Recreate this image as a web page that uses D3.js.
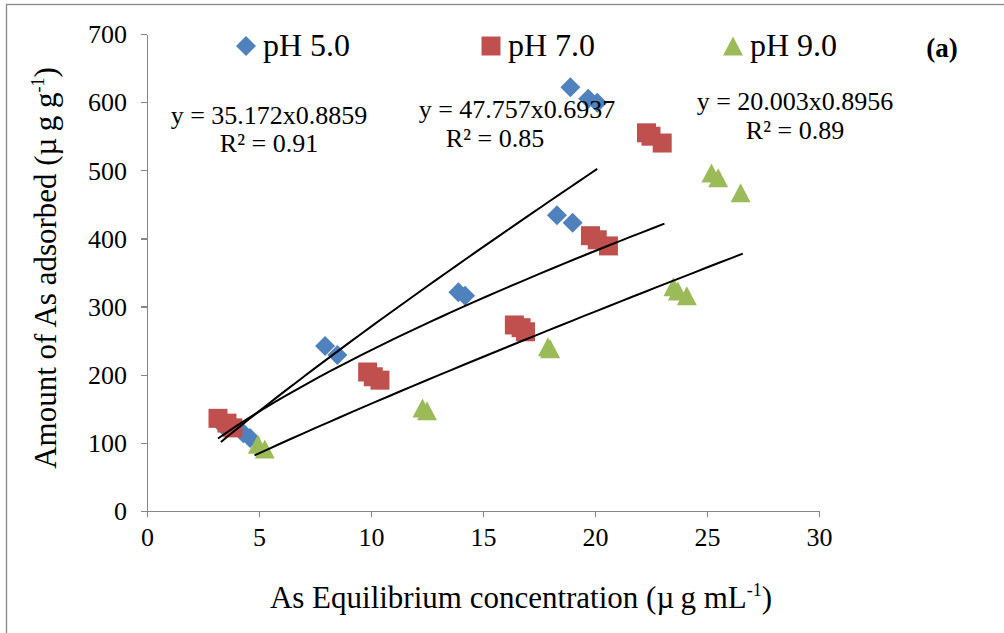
<!DOCTYPE html>
<html lang="en">
<head>
<meta charset="utf-8">
<script src="https://d3js.org/d3.v7.min.js"></script>
<style>
  body { margin: 0; background: #fff; }
  svg text { font-family: "Liberation Serif", "Times New Roman", serif; fill: #000; }
  .axis path, .axis line { stroke: #868686; stroke-width: 1.3px; fill: none; shape-rendering: crispEdges; }
</style>
</head>
<body>
<svg width="1004" height="633"></svg>
<script>
  // values
  var ph5X = [3.4, 4.3, 4.6, 7.95, 8.5, 13.9, 14.2, 18.3, 19.0, 18.9, 19.7, 20.1];
  var ph5Y = [125, 114, 107, 242, 229, 321, 316, 434, 423, 622, 605, 599];
  var ph7X = [3.17, 3.57, 3.83, 9.85, 10.1, 10.4, 16.4, 16.7, 16.9, 19.8, 20.1, 20.6, 22.3, 22.5, 23.0];
  var ph7Y = [136, 129, 122, 204, 197, 192, 273, 269, 263, 404, 398, 389, 555, 550, 540];
  var ph9X = [4.95, 5.26, 12.3, 12.5, 17.9, 18.0, 23.5, 23.7, 24.1, 25.2, 25.5, 26.5];
  var ph9Y = [98, 91, 151, 147, 241, 238, 329, 323, 316, 496, 489, 467];

  var seriesNames = ["pH 5.0", "pH 7.0", "pH 9.0"];
  var colors = ["#4F81BD", "#C0504D", "#9BBB59"];
  // power trendlines y = a * x^b, drawn over each series' x range
  var fitA = [35.172, 47.757, 20.003];
  var fitB = [0.8859, 0.6937, 0.8956];
  var fitR2 = ["0.91", "0.85", "0.89"];
  var fitRange = [[3.3, 20.1], [3.17, 23.1], [4.8, 26.6]];

  var xTicks = [0, 5, 10, 15, 20, 25, 30];
  var yTicks = [0, 100, 200, 300, 400, 500, 600, 700];

  var svg = d3.select("svg");

  // outer chart border (only top and left visible)
  svg.append("rect")
    .attr("x", 6.5).attr("y", 4.5)
    .attr("width", 1010).attr("height", 640)
    .attr("fill", "none").attr("stroke", "#888").attr("stroke-width", 1.3);

  var x = d3.scaleLinear().domain([0, 30]).range([147, 819]);
  var y = d3.scaleLinear().domain([0, 700]).range([511, 34]);

  var xAxis = svg.append("g")
    .attr("class", "axis")
    .attr("transform", "translate(0,511)")
    .call(d3.axisBottom(x).tickValues(xTicks).tickSize(6).tickSizeOuter(0).tickPadding(7));
  xAxis.selectAll("text").style("font-size", "26px").attr("dy", "0.85em");

  var yAxis = svg.append("g")
    .attr("class", "axis")
    .attr("transform", "translate(147,0)")
    .call(d3.axisLeft(y).tickValues(yTicks).tickSize(6).tickSizeOuter(0).tickPadding(14));
  yAxis.selectAll("text").style("font-size", "26px").attr("dy", "0.34em");

  // axis titles
  var xt = svg.append("text")
    .attr("x", 521).attr("y", 608)
    .attr("text-anchor", "middle")
    .style("font-size", "31px");
  xt.append("tspan").text("As Equilibrium concentration (µ\u2009g mL");
  xt.append("tspan").attr("dy", -12).style("font-size", "18px").text("-1");
  xt.append("tspan").attr("dy", 12).text(")");

  var yt = svg.append("text")
    .attr("transform", "translate(56,268) rotate(-90)")
    .attr("text-anchor", "middle")
    .style("font-size", "31px");
  yt.append("tspan").text("Amount of As adsorbed (µ\u2009g g");
  yt.append("tspan").attr("dy", -12).style("font-size", "18px").text("-1");
  yt.append("tspan").attr("dy", 12).text(")");

  // marker shapes
  function diamond(s) { return "M0," + (-s) + "L" + s + ",0L0," + s + "L" + (-s) + ",0Z"; }
  function square(s) { return "M" + (-s) + "," + (-s) + "H" + s + "V" + s + "H" + (-s) + "Z"; }
  function triangle(s) { return "M0," + (-s) + "L" + (s * 1.05) + "," + s + "H" + (-s * 1.05) + "Z"; }
  var shapes = [function () { return diamond(10); }, function () { return square(9.5); }, function () { return triangle(9.5); }];

  var series = [
    d3.zip(ph5X, ph5Y),
    d3.zip(ph7X, ph7Y),
    d3.zip(ph9X, ph9Y)
  ];

  series.forEach(function (pts, i) {
    svg.append("g").selectAll("path")
      .data(pts)
      .enter().append("path")
      .attr("transform", function (d) { return "translate(" + x(d[0]) + "," + y(d[1]) + ")"; })
      .attr("d", shapes[i])
      .attr("fill", colors[i]);
  });

  // trendlines
  var line = d3.line().x(function (d) { return x(d[0]); }).y(function (d) { return y(d[1]); });
  fitA.forEach(function (a, i) {
    var r = fitRange[i];
    var pts = d3.range(0, 41).map(function (k) {
      var xv = r[0] + (r[1] - r[0]) * k / 40;
      return [xv, a * Math.pow(xv, fitB[i])];
    });
    svg.append("path").attr("d", line(pts))
      .attr("fill", "none").attr("stroke", "#000").attr("stroke-width", 2);
  });

  // trendline labels
  var eqPos = [[269, 124, 269, 152], [517, 118, 495, 147], [795, 110, 795, 139]];
  fitA.forEach(function (a, i) {
    var p = eqPos[i];
    svg.append("text").attr("x", p[0]).attr("y", p[1]).attr("text-anchor", "middle")
      .style("font-size", "26px").text("y = " + a.toFixed(3) + "x" + fitB[i].toFixed(4));
    svg.append("text").attr("x", p[2]).attr("y", p[3]).attr("text-anchor", "middle")
      .style("font-size", "26px").text("R² = " + fitR2[i]);
  });

  // legend
  var legX = [246, 491, 733];
  seriesNames.forEach(function (name, i) {
    svg.append("path")
      .attr("transform", "translate(" + legX[i] + ",46)")
      .attr("d", shapes[i]())
      .attr("fill", colors[i]);
    svg.append("text").attr("x", legX[i] + 17).attr("y", 56)
      .style("font-size", "32px").text(name);
  });

  svg.append("text").attr("x", 942).attr("y", 57).attr("text-anchor", "middle")
    .style("font-size", "27px").style("font-weight", "bold").text("(a)");
</script>
</body>
</html>
